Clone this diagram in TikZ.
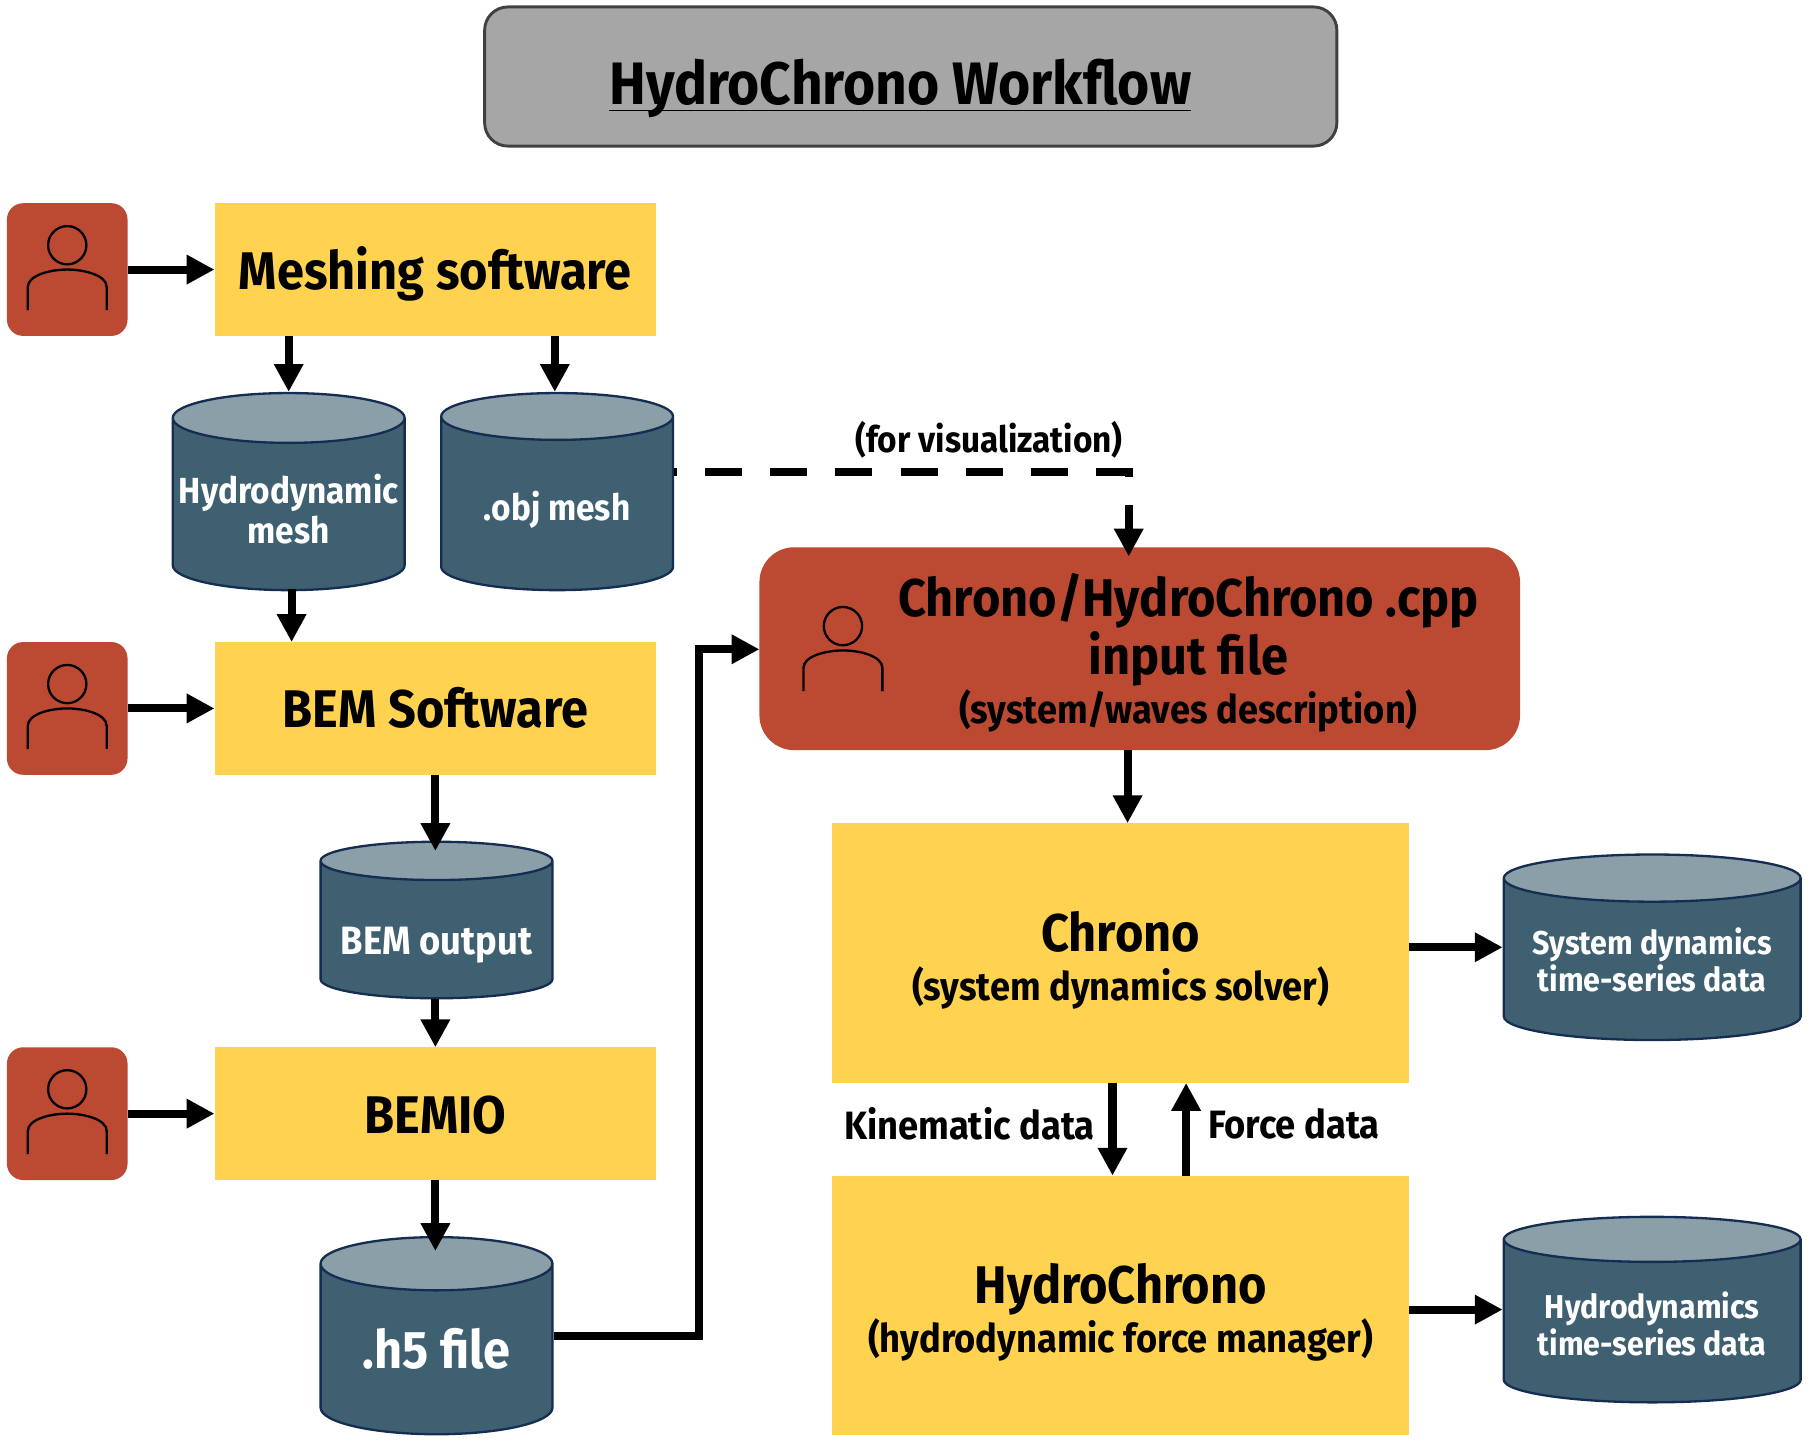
\documentclass[tikz,border=0pt]{standalone}
\usepackage{fontspec}
\setmainfont{Fira Sans}[FakeStretch=0.92]
\usepackage{tikz}
\usetikzlibrary{arrows.meta, shapes.geometric}

\definecolor{swyellow}{HTML}{FFD34F}
\definecolor{userred}{HTML}{BC4A32}
\definecolor{dbbody}{HTML}{3F6071}
\definecolor{dbtop}{HTML}{8B9FA8}
\definecolor{dbline}{HTML}{162D52}
\definecolor{titlegray}{HTML}{A6A6A6}

\newcommand{\sizeA}{\bfseries\fontsize{13}{14.2}\selectfont}
\newcommand{\sizeB}{\bfseries\fontsize{9.68}{11}\selectfont}
\newcommand{\sizeC}{\bfseries\fontsize{8.9}{9.8}\selectfont}
\newcommand{\sizeD}{\bfseries\fontsize{8.1}{9.2}\selectfont}
\newcommand{\sizeE}{\bfseries\fontsize{9.7}{11}\selectfont}
\newcommand{\textdown}[2]{\raisebox{-#1}[\height][\depth]{#2}}

\tikzset{
    softbox/.style={fill=swyellow, outer sep=0pt, minimum width=3.81cm, minimum height=1.145cm, font=\sizeA, align=center, text height=9.6pt, text depth=0pt},
    bigbox/.style={fill=swyellow, outer sep=0pt, minimum width=4.97cm, minimum height=2.24cm, font=\sizeA, align=center},
    userbox/.style={fill=userred, outer sep=0pt, rounded corners=.14cm, minimum width=1.04cm, minimum height=1.145cm},
    database/.style={cylinder, shape border rotate=90, anchor=shape center, aspect=.29, inner sep=0pt, draw=dbline, line width=.02cm,
        cylinder uses custom fill, cylinder body fill=dbbody, cylinder end fill=dbtop,
        text=white, align=center, font=\sizeC, minimum width=2cm, minimum height=1.7cm},
    flow/.style={line width=.07cm, -{Triangle[length=.24cm,width=.24cm]}},
    personicon/.pic={
        \draw[line width=.02cm] (0,-.21) circle (.165);
        \draw[line width=.02cm] (-.34,.35) -- (-.34,.15) .. controls (-.34,.05) and (-.15,0) .. (0,0)
            .. controls (.15,0) and (.34,.05) .. (.34,.15) -- (.34,.35);
    },
}

\begin{document}
\begin{tikzpicture}[x=1cm,y=-1cm]
    \useasboundingbox (0,0) rectangle (15.68,12.48);

    \node[draw=black!75, line width=.025cm, fill=titlegray, rounded corners=.2cm, minimum width=7.35cm, minimum height=1.2cm] (title) at (7.855,.66) {};
    \node[font=\bfseries\fontsize{14.7}{18}\selectfont] (titletext) at (7.765,.94) {\underline{\smash{HydroChrono Workflow}}};

    % left column
    \node[userbox] (user1) at (.58,2.325) {};
    \node[userbox] (user2) at (.58,6.11) {};
    \node[userbox] (user3) at (.58,9.605) {};
    \pic at (user1) {personicon};
    \pic at (user2) {personicon};
    \pic at (user3) {personicon};

    \node[softbox] (meshing) at (3.755,2.325) {Meshing software};
    \node[softbox] (bemsoft) at (3.755,6.11) {BEM Software};
    \node[softbox] (bemio) at (3.755,9.605) {BEMIO};

    \node[database, aspect=.227] (hydromesh) at (2.49,4.24) {\textdown{1.1pt}{Hydrodynamic}\\\textdown{1.1pt}{mesh}};
    \node[database, aspect=.32] (objmesh) at (4.805,4.24) {\textdown{1.4pt}{.obj mesh}};
    \node[database, aspect=.2, font=\sizeE, minimum height=1.35cm] (bemout) at (3.765,7.935) {\textdown{3.7pt}{BEM output}};
    \node[database, aspect=.36, font=\sizeA] (hfive) at (3.765,11.52) {\raisebox{.6pt}{.h5 file}};

    % right column
    \node[fill=userred, outer sep=0pt, rounded corners=.3cm, minimum width=6.56cm, minimum height=1.75cm] (input) at (9.83,5.595) {};
    \pic at (7.27,5.61) {personicon};
    \node[align=center, font=\sizeA] (inputtext) at (10.25,5.63) {Chrono/HydroChrono .cpp\\input file\\[-2.2pt]{\sizeB (system/waves description)}};

    \node[bigbox] (chrono) at (9.665,8.22) {\rule{0pt}{13.2pt}Chrono\\[-2.2pt]{\sizeB (system dynamics solver)}};
    \node[bigbox] (hydrochrono) at (9.665,11.26) {\rule{0pt}{13.2pt}HydroChrono\\[-2.2pt]{\sizeB (hydrodynamic force manager)}};

    \node[database, aspect=.197, font=\sizeD, minimum width=2.56cm, minimum height=1.6cm] (sysdata) at (14.25,8.17) {System dynamics\\time-series data};
    \node[database, aspect=.197, font=\sizeD, minimum width=2.56cm, minimum height=1.6cm] (hydrodata) at (14.25,11.295) {\textdown{.6pt}{Hydrodynamics}\\\textdown{.6pt}{time-series data}};

    \node[font=\sizeC] (vislabel) at (8.53,3.79) {(for visualization)};
    \node[font=\sizeE] (kinlabel) at (8.36,9.69) {Kinematic data};
    \node[font=\sizeE] (forcelabel) at (11.16,9.69) {Force data};

    \draw[flow] (user1) -- (meshing);
    \draw[flow] (user2) -- (bemsoft);
    \draw[flow] (user3) -- (bemio);
    \draw[flow] (meshing.south -| hydromesh.north) -- (hydromesh.north);
    \draw[flow] ([xshift=-.02cm]meshing.south -| objmesh.north) -- ([xshift=-.02cm]objmesh.north);
    \draw[flow] ([xshift=.025cm,yshift=.02cm]hydromesh.south) -- ([xshift=.025cm]hydromesh.south |- bemsoft.north);
    \draw[flow] (bemsoft) -- ([yshift=-.09cm]bemsoft.south |- bemout.north);
    \draw[flow] (bemout.south -| bemio.south) -- (bemio.north);
    \draw[flow] (bemio) -- ([yshift=-.13cm]bemio.south |- hfive.north);
    \draw[flow] (hfive.east |- 0,11.52) -| (6.03,5.6) -- (input.west |- 0,5.6);
    \draw[flow, dash pattern=on .32cm off .243cm, dash phase=.3cm] (objmesh.east |- 0,4.07) -| (9.735,4.8);
    \draw[flow] (input.south -| 9.725,0) -- (chrono.north -| 9.725,0);
    \draw[flow] (chrono.south -| 9.595,0) -- (hydrochrono.north -| 9.595,0);
    \draw[flow] (hydrochrono.north -| 10.23,0) -- (chrono.south -| 10.23,0);
    \draw[flow] (chrono.east |- sysdata.shape center) -- (sysdata.west |- sysdata.shape center);
    \draw[flow] (hydrochrono.east |- hydrodata.shape center) -- (hydrodata.west |- hydrodata.shape center);
\end{tikzpicture}
\end{document}
